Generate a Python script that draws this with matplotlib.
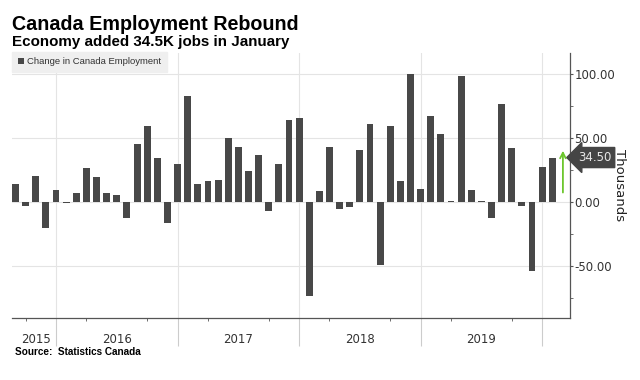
import numpy as np
import matplotlib
matplotlib.use("Agg")
import matplotlib.pyplot as plt
from matplotlib.ticker import FixedLocator, NullFormatter

# monthly change in employment, thousands (Aug 2015 .. Jan 2020)
months = ["2015-08", "2015-09", "2015-10", "2015-11", "2015-12"] + \
    [f"{y}-{m:02d}" for y in range(2016, 2020) for m in range(1, 13)] + ["2020-01"]
change = [14.1, -3.1, 20.0, -20.3, 8.9,
          -1.0, 6.5, 26.0, 19.5, 7.0, 4.9, -12.8, 44.8, 58.9, 34.4, -16.4, 29.2,
          82.8, 13.5, 16.4, 16.9, 49.7, 42.4, 24.2, 36.2, -7.6, 29.4, 64.1, 65.1,
          -73.9, 8.1, 42.4, -5.7, -4.4, 40.1, 60.9, -49.7, 59.1, 16.1, 100.0, 9.6,
          66.9, 52.9, 0.3, 97.9, 9.1, 0.8, -13.0, 76.0, 41.9, -3.1, -54.1, 27.3,
          34.5]
years = ["2015", "2016", "2017", "2018", "2019"]
yticks = [-50, 0, 50, 100]

x = np.arange(len(months))
# year boundaries sit on the December bars
bounds = [i for i, m in enumerate(months) if m.endswith("-12")]
half_years = [i for i, m in enumerate(months) if m.endswith("-03") or m.endswith("-09")]

fig = plt.figure(figsize=(6.4, 3.8), dpi=100)
ax = fig.add_axes([12/640, 62/380, 558/640, 265/380])

for b in bounds:
    ax.axvline(b, color="#e4e4e4", lw=0.8, zorder=0)
for v in yticks:
    ax.axhline(v, color="#e4e4e4", lw=0.8, zorder=0)

bars = ax.bar(x, change, width=0.68, color="#484848", zorder=2,
              label="Change in Canada Employment")

ax.set_xlim(-0.35, 54.75)
ax.set_ylim(-90.9, 116.2)

ax.yaxis.tick_right()
ax.set_yticks(yticks)
ax.set_yticklabels([f"{v:.2f}" for v in yticks], fontsize=8.5, color="#333333")
ax.yaxis.set_minor_locator(FixedLocator([-75, -25, 25, 75]))
ax.tick_params(axis="y", which="major", length=2.5, color="#555555", pad=0.8)
ax.tick_params(axis="y", which="minor", length=2.5, color="#555555")
ax.yaxis.set_label_position("right")
ax.set_ylabel("Thousands", rotation=270, fontsize=9.5, color="#222222", labelpad=8)

ax.set_xticks(bounds)
ax.set_xticklabels([])
ax.xaxis.set_minor_locator(FixedLocator(half_years))
ax.xaxis.set_minor_formatter(NullFormatter())
ax.tick_params(axis="x", which="major", length=20, color="#cccccc", width=0.8)
ax.tick_params(axis="x", which="minor", length=2.5, color="#555555")

label_pos = [2.0] + [(bounds[i] + bounds[i + 1]) / 2 for i in range(len(bounds) - 1)]
for lx, yr in zip(label_pos, years):
    ax.text(lx, -0.08, yr, transform=ax.get_xaxis_transform(), ha="center",
            va="center", fontsize=8.5, color="#333333")

for s in ["left", "top"]:
    ax.spines[s].set_visible(False)
for s in ["right", "bottom"]:
    ax.spines[s].set_color("#555555")
    ax.spines[s].set_linewidth(0.9)

# latest value marker
ax.annotate("", xy=(54.05, 42), xytext=(54.05, 5),
            arrowprops=dict(arrowstyle="->", color="#6cc62d", lw=1.3))
ax.annotate(f"{change[-1]:.2f}", xy=(1.014, change[-1]), xycoords=("axes fraction", "data"),
            ha="left", va="center", fontsize=8.5, color="#e8e8e8",
            bbox=dict(boxstyle="larrow,pad=0.3", fc="#454545", ec="#454545"),
            annotation_clip=False)

leg = ax.legend(loc="upper left", bbox_to_anchor=(0, 1.005), frameon=True, fancybox=False,
                borderaxespad=0, handlelength=0.7, handleheight=0.7, handletextpad=0.3,
                prop={"family": "Liberation Sans", "size": 6.8}, borderpad=0.6)
leg.get_frame().set_facecolor("#efefef")
leg.get_frame().set_edgecolor("#efefef")
leg.get_frame().set_alpha(1)
for t in leg.get_texts():
    t.set_color("#333333")

fig.text(12/640, 1 - 29.5/380, "Canada Employment Rebound", fontsize=14.2,
         family="Liberation Sans", fontweight="bold", va="baseline", ha="left")
fig.text(12/640, 1 - 45.7/380, "Economy added 34.5K jobs in January", fontsize=10.9,
         family="Liberation Sans", fontweight="bold", va="baseline", ha="left")
fig.text(15/640, 1 - 352/380, "Source:  Statistics Canada", fontsize=7.2,
         family="Liberation Sans", fontweight="bold", va="center", ha="left")

fig.savefig("out.png", dpi=100, facecolor="white")
